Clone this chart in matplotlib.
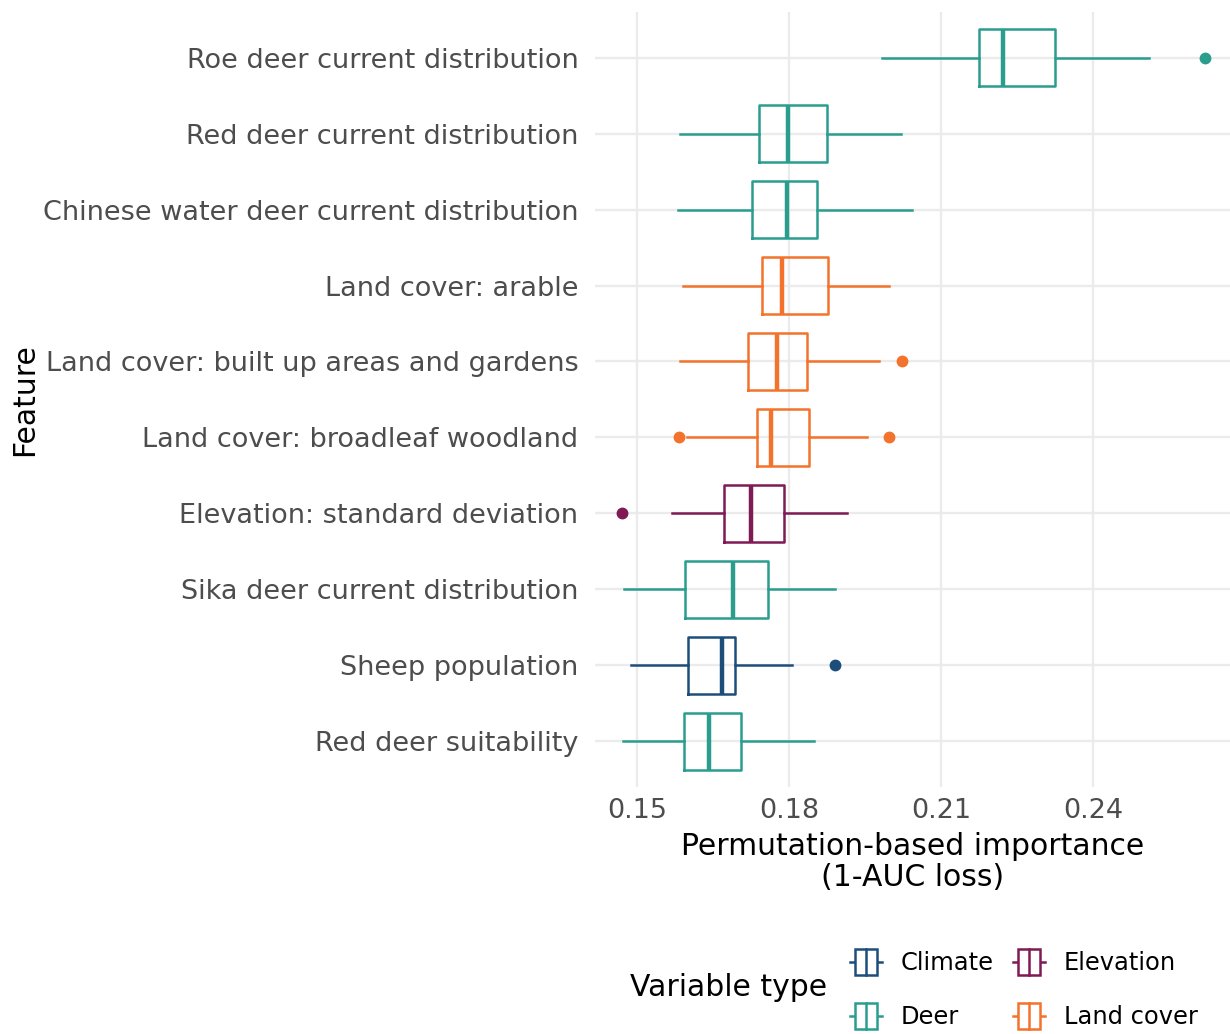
import numpy as np
import matplotlib.pyplot as plt
from matplotlib.patches import Rectangle
from matplotlib.lines import Line2D
from matplotlib.legend_handler import HandlerBase

# features listed bottom to top
features = ['Red deer suitability', 'Sheep population', 'Sika deer current distribution',
            'Elevation: standard deviation', 'Land cover: broadleaf woodland',
            'Land cover: built up areas and gardens', 'Land cover: arable',
            'Chinese water deer current distribution', 'Red deer current distribution',
            'Roe deer current distribution']
var_type = ['Deer', 'Climate', 'Deer', 'Elevation', 'Land cover', 'Land cover',
            'Land cover', 'Deer', 'Deer', 'Deer']
whis_lo = [0.1473, 0.1488, 0.1475, 0.1570, 0.1598, 0.1585, 0.1591, 0.1580, 0.1585, 0.1984]
q1 = [0.1593, 0.1600, 0.1595, 0.1672, 0.1737, 0.1719, 0.1746, 0.1726, 0.1741, 0.2175]
med = [0.1642, 0.1668, 0.1689, 0.1725, 0.1764, 0.1777, 0.1786, 0.1796, 0.1797, 0.2223]
q3 = [0.1705, 0.1693, 0.1758, 0.1790, 0.1839, 0.1836, 0.1877, 0.1856, 0.1874, 0.2325]
whis_hi = [0.1850, 0.1806, 0.1891, 0.1914, 0.1954, 0.1978, 0.1997, 0.2042, 0.2021, 0.2510]
outliers = [[], [0.1891], [], [0.1471], [0.1582, 0.1997], [0.2022], [], [], [], [0.2620]]

types = ['Climate', 'Deer', 'Elevation', 'Land cover']
colors = {'Climate': '#1d4e7a', 'Deer': '#2a9d8f', 'Elevation': '#7f1a55', 'Land cover': '#f3722c'}

fig = plt.figure(figsize=(12.3, 10.34), dpi=100)
ax = fig.add_axes([0.4837, 0.2389, 0.5163, 0.7495])

stats = []
for i in range(len(features)):
    stats.append(dict(whislo=whis_lo[i], q1=q1[i], med=med[i], q3=q3[i],
                      whishi=whis_hi[i], fliers=outliers[i]))

pos = np.arange(1, len(features) + 1)
for i, s in enumerate(stats):
    c = colors[var_type[i]]
    ax.bxp([s], positions=[pos[i]], vert=False, widths=0.75, showcaps=False,
           boxprops=dict(color=c, linewidth=1.8),
           whiskerprops=dict(color=c, linewidth=1.8),
           medianprops=dict(color=c, linewidth=3.2, solid_capstyle='butt'),
           flierprops=dict(marker='o', markerfacecolor=c, markeredgecolor=c, markersize=7.5),
           manage_ticks=False, zorder=3)

ax.set_xlim(0.1417, 0.267)
ax.set_ylim(0.4, len(features) + 0.6)
ax.set_xticks([0.15, 0.18, 0.21, 0.24])
ax.set_xticklabels(['0.15', '0.18', '0.21', '0.24'])
ax.set_yticks(pos)
ax.set_yticklabels(features)
ax.tick_params(length=0, labelsize=19.5, labelcolor='#4d4d4d')
ax.tick_params(axis='y', pad=12)
ax.tick_params(axis='x', pad=8)
ax.grid(True, color='#ebebeb', linewidth=1.7, zorder=0)
ax.set_axisbelow(True)
for sp in ax.spines.values():
    sp.set_visible(False)

ax.set_xlabel('Permutation-based importance\n(1-AUC loss)', fontsize=21.5, linespacing=1.05, labelpad=6)
fig.text(0.02, 0.6135, 'Feature', rotation=90, fontsize=21.5, ha='center', va='center')


class BoxKey(HandlerBase):
    def create_artists(self, legend, orig_handle, xdescent, ydescent, width, height, fontsize, trans):
        c = orig_handle.get_color()
        bx0 = -xdescent + width * 0.16
        bx1 = -xdescent + width * 0.84
        y0 = -ydescent
        yc = y0 + height / 2
        rect = Rectangle((bx0, y0), bx1 - bx0, height, facecolor='white', edgecolor=c,
                         linewidth=1.8, transform=trans)
        m = Line2D([(bx0 + bx1) / 2] * 2, [y0, y0 + height], color=c, linewidth=1.8, transform=trans)
        w1 = Line2D([-xdescent, bx0], [yc, yc], color=c, linewidth=1.8, transform=trans)
        w2 = Line2D([bx1, -xdescent + width], [yc, yc], color=c, linewidth=1.8, transform=trans)
        return [w1, w2, rect, m]


handles = [Line2D([], [], color=colors[t]) for t in types]
fig.legend(handles, types, handler_map={Line2D: BoxKey()}, ncol=2, frameon=False,
           loc='center left', bbox_to_anchor=(0.691, 0.0435), fontsize=17.4,
           handlelength=1.33, handleheight=1.25, handletextpad=0.75, columnspacing=0.83,
           labelspacing=1.17, borderaxespad=0, borderpad=0)
fig.text(0.512, 0.0445, 'Variable type', fontsize=21.5, ha='left', va='center')

fig.savefig('out.png', dpi=100)
